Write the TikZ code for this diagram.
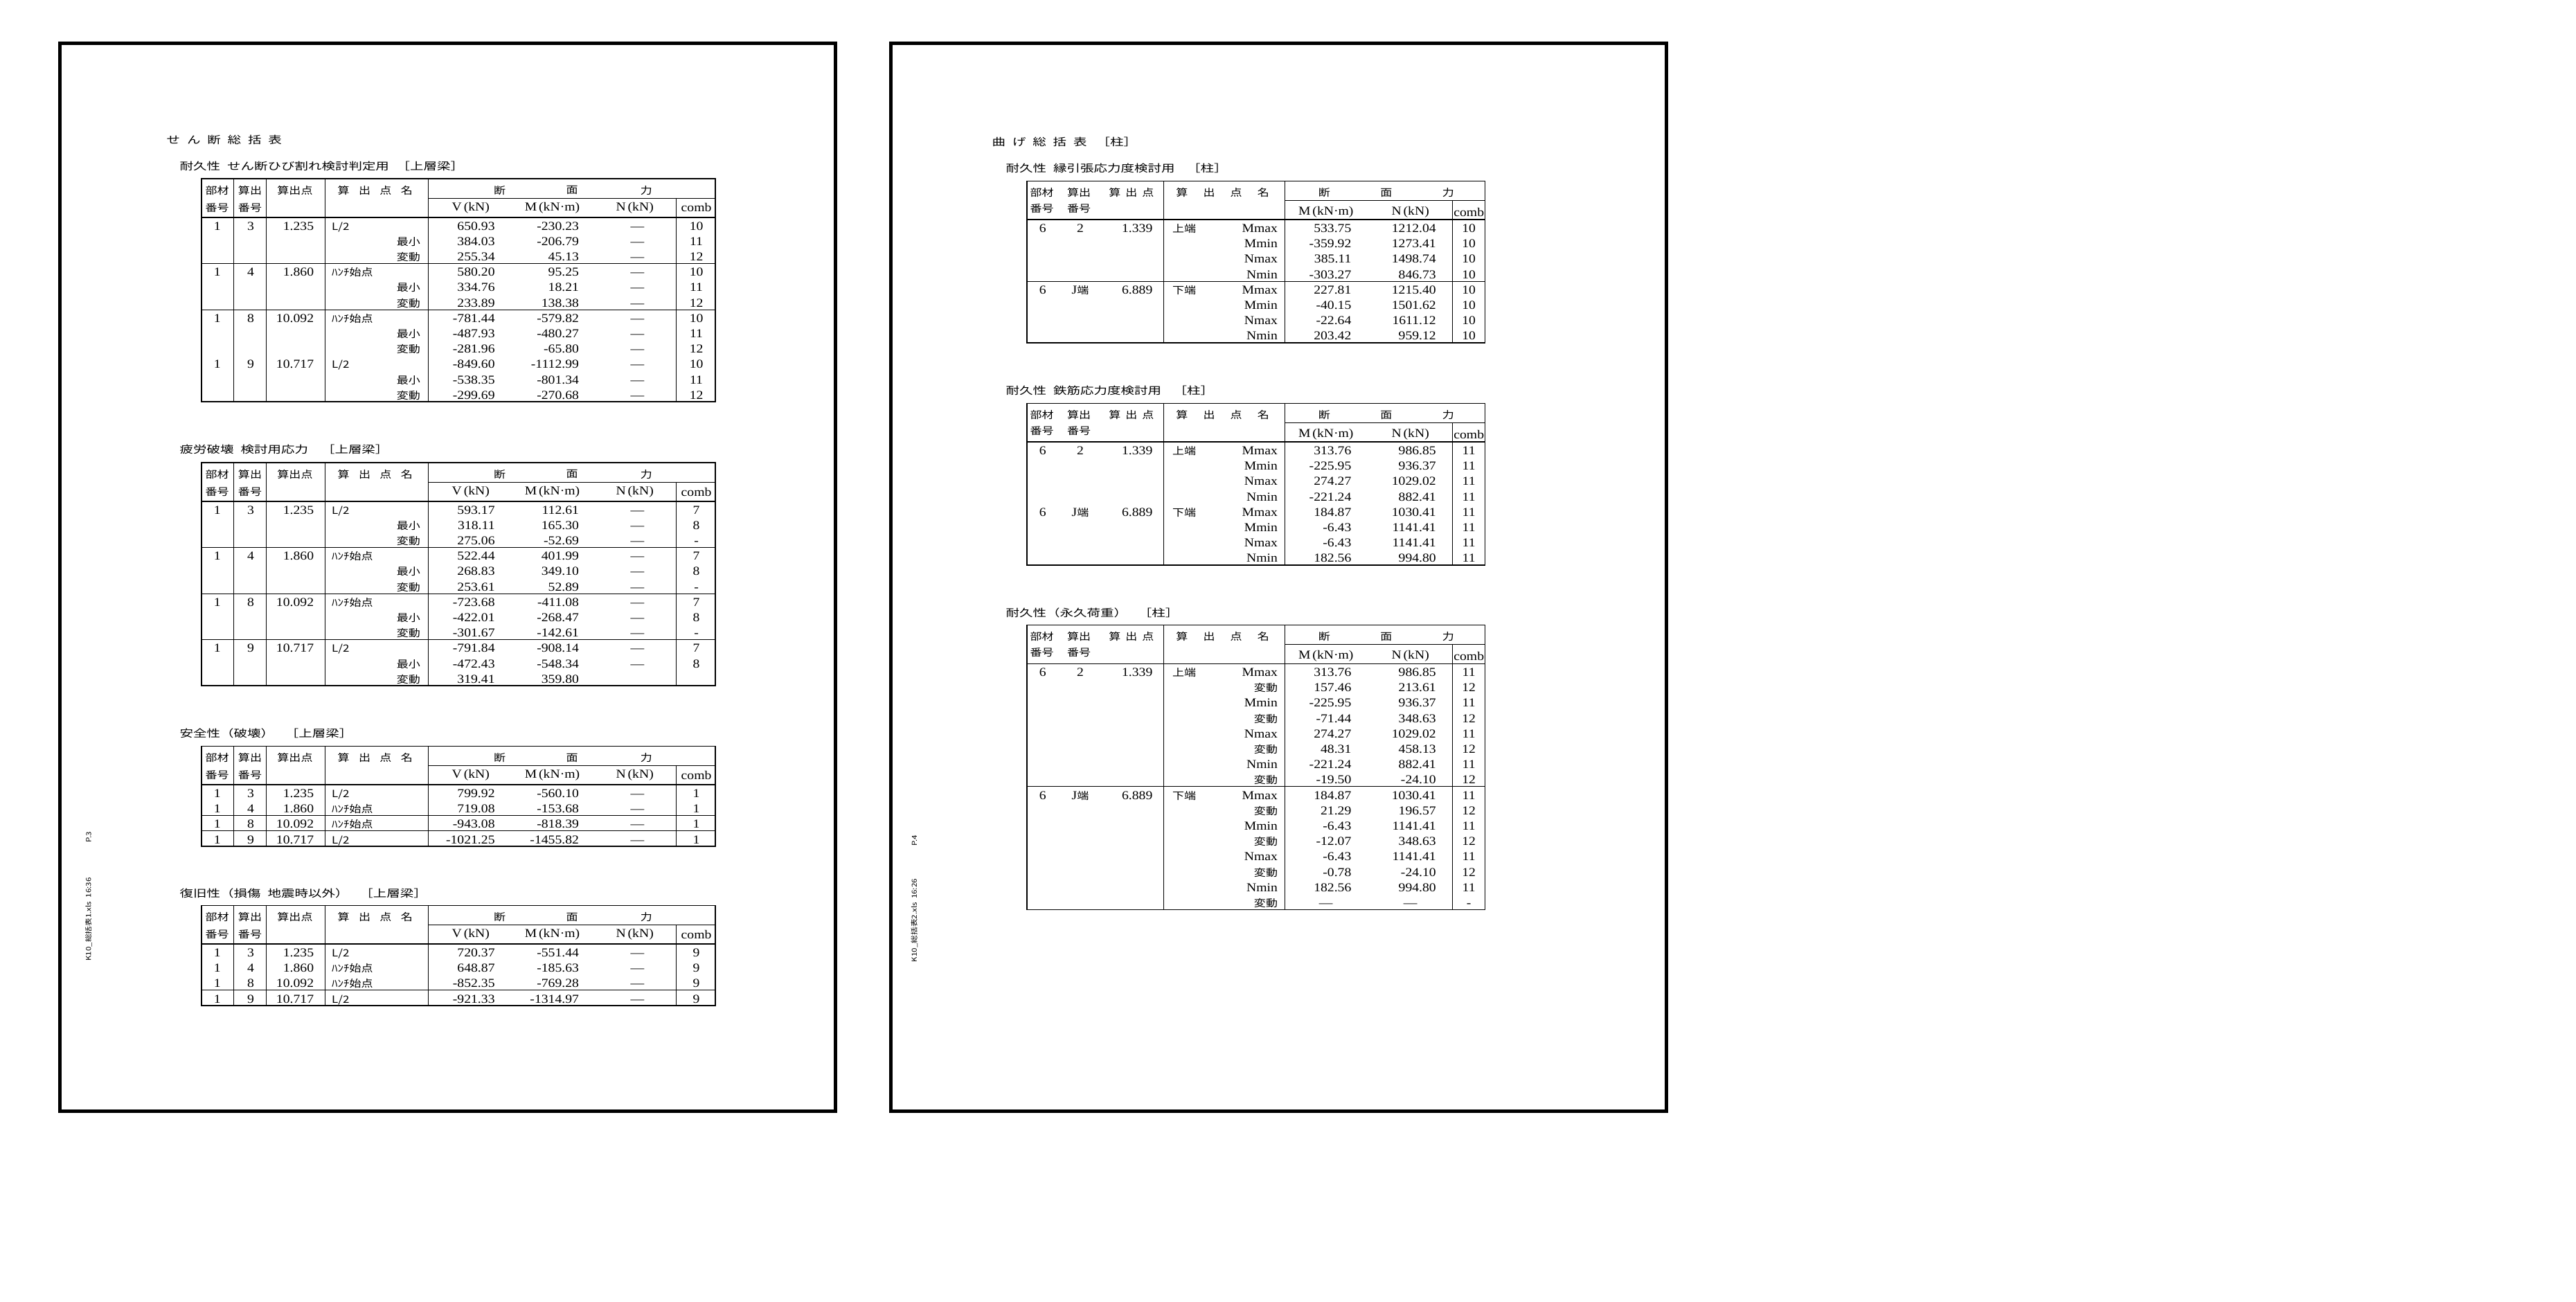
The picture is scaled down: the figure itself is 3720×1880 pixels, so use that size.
\documentclass[tikz,border=0pt]{standalone}
\usepackage{fontspec}
\setmainfont{Liberation Serif}[FakeStretch=1.12]
\newfontfamily\jp{Noto Sans CJK JP}[FakeStretch=1.32]
\newfontfamily\jpn{Noto Sans CJK JP}[FakeStretch=1.18]
\usetikzlibrary{positioning}

\newcommand{\numsz}{\fontsize{5}{6}\selectfont}
\newcommand{\jsz}{\fontsize{4.1}{5}\selectfont}
\newcommand{\tsz}{\fontsize{4.2}{5}\selectfont}
\newcommand{\jsp}{\hspace{2.8pt}}
\newcommand{\Lhalf}{L/2}
\newcommand{\Jend}{J{\jpn\jsz 端}}
\newcommand{\hendou}{{\jpn\jsz 変動}}

% body rows of a beam table: name, y of header bottom, rows
\newcommand{\beamrows}[3]{%
\foreach \fa/\fb/\fc/\fd/\fe/\fv/\fm/\fn/\fk [count=\k] in {#3} {
  \node[cnum] (#1a\k) at (313.7,{#2+22.2*\k-3.9}) {\fa};
  \node[cnum] (#1b\k) at (362,{#2+22.2*\k-3.9}) {\fb};
  \node[num] (#1c\k) at (453.8,{#2+22.2*\k-3.9}) {\fc};
  \node[jl] (#1d\k) at (478.4,{#2+22.2*\k-3.9}) {\fd};
  \node[jr] (#1e\k) at (607.6,{#2+22.2*\k-3.9}) {\fe};
  \node[num] (#1v\k) at (715.3,{#2+22.2*\k-3.9}) {\fv};
  \node[num] (#1m\k) at (836.7,{#2+22.2*\k-3.9}) {\fm};
  \node[cnum] (#1n\k) at (920.4,{#2+22.2*\k-3.9}) {\fn};
  \node[cnum] (#1k\k) at (1005.6,{#2+22.2*\k-3.9}) {\fk};
}}

% body rows of a column table: name, y of header bottom, rows
\newcommand{\colrows}[3]{%
\foreach \fa/\fb/\fc/\fd/\fe/\fm/\fn/\fk [count=\k] in {#3} {
  \node[cnum] (#1a\k) at (1505.9,{#2+22.2*\k-3.9}) {\fa};
  \node[cnum] (#1b\k) at (1560,{#2+22.2*\k-3.9}) {\fb};
  \node[num] (#1c\k) at (1665.1,{#2+22.2*\k-3.9}) {\fc};
  \node[jl] (#1d\k) at (1692.5,{#2+22.2*\k-3.9}) {\fd};
  \node[num] (#1e\k) at (1845.7,{#2+22.2*\k-3.9}) {\fe};
  \node[num] (#1m\k) at (1952.1,{#2+22.2*\k-3.9}) {\fm};
  \node[num] (#1n\k) at (2074.5,{#2+22.2*\k-3.9}) {\fn};
  \node[cnum] (#1k\k) at (2121.2,{#2+22.2*\k-3.9}) {\fk};
}}

\begin{document}
\begin{tikzpicture}[x=0.01cm,y=-0.01cm]

\tikzstyle{pageframe}=[line width=1.4pt]
\tikzstyle{tabframe}=[line width=0.45pt]
\tikzstyle{tabrule}=[line width=0.25pt]
\tikzstyle{num}=[inner sep=0pt,anchor=base east,font=\numsz]
\tikzstyle{cnum}=[inner sep=0pt,anchor=base,font=\numsz]
\tikzstyle{unit}=[inner sep=0pt,font=\numsz]
\tikzstyle{jl}=[inner sep=0pt,anchor=base west,font=\jpn\jsz]
\tikzstyle{jr}=[inner sep=0pt,anchor=base east,font=\jpn\jsz]
\tikzstyle{headtxt}=[inner sep=0pt,font=\jpn\jsz]
\tikzstyle{ttl}=[inner sep=0pt,anchor=west,font=\jp\tsz]
\tikzstyle{sidetxt}=[inner sep=0pt,rotate=90,font=\jpn\fontsize{2.8}{3}\selectfont]

\useasboundingbox (0,0) rectangle (3720,1880);
\fill[white] (0,0) rectangle (3720,1880);

% pages
\draw[pageframe] (86.5,62.5) rectangle (1206.5,1604.5);
\draw[pageframe] (1286.5,62.5) rectangle (2406.5,1604.5);
\node[sidetxt] (lpage) at (128,1209) {P.3};
\node[sidetxt] (lfile) at (128,1327.5) {K10\_総括表1.xls\ \ 16:36};
\node[sidetxt] (rpage) at (1320.5,1213.5) {P.4};
\node[sidetxt] (rfile) at (1320.5,1329) {K10\_総括表2.xls\ \ 16:26};

% titles, left page
\node[ttl] (ltitle) at (240,201.7) {せ\jsp ん\jsp 断\jsp 総\jsp 括\jsp 表};
\node[ttl] (lsub1) at (259,240) {耐久性\hspace{2.8pt}せん断ひび割れ検討判定用\hspace{3pt}［上層梁］};
\node[ttl] (lsub2) at (259,649.3) {疲労破壊\hspace{2.8pt}検討用応力\hspace{5.4pt}［上層梁］};
\node[ttl] (lsub3) at (259,1059.3) {安全性（破壊）\hspace{4.5pt}［上層梁］};
\node[ttl] (lsub4) at (259,1290) {復旧性（損傷\hspace{2.8pt}地震時以外）\hspace{4.5pt}［上層梁］};

% titles, right page
\node[ttl] (rtitle) at (1432,205) {曲\jsp げ\jsp 総\jsp 括\jsp 表\hspace{4pt}［柱］};
\node[ttl] (rsub1) at (1452,243.3) {耐久性\hspace{2.8pt}縁引張応力度検討用\hspace{5pt}［柱］};
\node[ttl] (rsub2) at (1452,564.3) {耐久性\hspace{2.8pt}鉄筋応力度検討用\hspace{5pt}［柱］};
\node[ttl] (rsub3) at (1452,885) {耐久性（永久荷重）\hspace{4.5pt}［柱］};

% beam tables: frame and header
\foreach \ty/\by [count=\i] in {258.3/580.2, 668.3/990.2, 1077.7/1222, 1307.7/1452} {
  \draw[tabframe] (291.2,\ty) rectangle (1032.8,\by);
  \draw[tabframe] (291.2,\ty+55.5) -- (1032.8,\ty+55.5);
  \draw[tabrule] (618.6,\ty+27.7) -- (1032.8,\ty+27.7);
  \draw[tabrule] (976.8,\ty+27.7) -- (976.8,\by);
  \foreach \cx in {337.7,384.3,469.5,618.6}
    \draw[tabrule] (\cx,\ty) -- (\cx,\by);
  \node[headtxt] (b\i-h1) at (313.7,\ty+16.7) {部材};
  \node[headtxt] (b\i-h2) at (313.7,\ty+41.7) {番号};
  \node[headtxt] (b\i-h3) at (361,\ty+16.7) {算出};
  \node[headtxt] (b\i-h4) at (361,\ty+41.7) {番号};
  \node[headtxt] (b\i-h5) at (426,\ty+16.7) {算出点};
  \node[headtxt] (b\i-h6) at (541.7,\ty+16.7) {算\hspace{3.8pt}出\hspace{3.8pt}点\hspace{3.8pt}名};
  \node[headtxt] (b\i-f1) at (721.6,\ty+16.7) {断};
  \node[headtxt] (b\i-f2) at (826.2,\ty+16.7) {面};
  \node[headtxt] (b\i-f3) at (933.4,\ty+16.7) {力};
  \node[unit] (b\i-v) at (679.8,\ty+41.7) {V\,(kN)};
  \node[unit] (b\i-m) at (797.5,\ty+41.7) {M\,(kN·m)};
  \node[unit] (b\i-n) at (916.7,\ty+41.7) {N\,(kN)};
  \node[unit] (b\i-c) at (1005.6,\ty+41.7) {comb};
}

% column tables: frame and header
\foreach \ty/\by [count=\i] in {261.7/495.1, 582.7/815.9, 902.7/1313.5} {
  \draw[tabframe] (1483.1,\ty) rectangle (2144.6,\by);
  \draw[tabframe] (1483.1,\ty+55.6) -- (2144.6,\ty+55.6);
  \draw[tabrule] (1855.6,\ty+27.6) -- (2144.6,\ty+27.6);
  \draw[tabrule] (2097.9,\ty+27.6) -- (2097.9,\by);
  \foreach \cx in {1680,1855.6}
    \draw[tabrule] (\cx,\ty) -- (\cx,\by);
  \node[headtxt] (c\i-h1) at (1504.5,\ty+16.6) {部材};
  \node[headtxt] (c\i-h2) at (1504.5,\ty+39.3) {番号};
  \node[headtxt] (c\i-h3) at (1558.2,\ty+16.6) {算出};
  \node[headtxt] (c\i-h4) at (1558.2,\ty+39.3) {番号};
  \node[headtxt] (c\i-h5) at (1633.8,\ty+16.6) {算\hspace{2pt}出\hspace{2pt}点};
  \node[headtxt] (c\i-h6) at (1765.6,\ty+16.6) {算\hspace{6.3pt}出\hspace{6.3pt}点\hspace{6.3pt}名};
  \node[headtxt] (c\i-f1) at (1912.3,\ty+16.6) {断};
  \node[headtxt] (c\i-f2) at (2001.9,\ty+16.6) {面};
  \node[headtxt] (c\i-f3) at (2091.4,\ty+16.6) {力};
  \node[unit] (c\i-m) at (1914.8,\ty+45) {M\,(kN·m)};
  \node[unit] (c\i-n) at (2036.7,\ty+45) {N\,(kN)};
  \node[unit] (c\i-c) at (2121.2,\ty+45) {comb};
}

% group rules
\foreach \ry in {380.4,447.0,790.4,857.0,923.6,1177.6,1199.8,1429.8}
  \draw[tabrule] (291.2,\ry) -- (1032.8,\ry);
\foreach \ry in {406.1,1135.9}
  \draw[tabrule] (1483.1,\ry) -- (2144.6,\ry);

% beam table rows
\beamrows{ba}{313.8}{
1/3/1.235/\Lhalf/{}/650.93/-230.23/—/10,
{}/{}/{}/{}/最小/384.03/-206.79/—/11,
{}/{}/{}/{}/変動/255.34/45.13/—/12,
1/4/1.860/ﾊﾝﾁ始点/{}/580.20/95.25/—/10,
{}/{}/{}/{}/最小/334.76/18.21/—/11,
{}/{}/{}/{}/変動/233.89/138.38/—/12,
1/8/10.092/ﾊﾝﾁ始点/{}/-781.44/-579.82/—/10,
{}/{}/{}/{}/最小/-487.93/-480.27/—/11,
{}/{}/{}/{}/変動/-281.96/-65.80/—/12,
1/9/10.717/\Lhalf/{}/-849.60/-1112.99/—/10,
{}/{}/{}/{}/最小/-538.35/-801.34/—/11,
{}/{}/{}/{}/変動/-299.69/-270.68/—/12}

\beamrows{bb}{723.8}{
1/3/1.235/\Lhalf/{}/593.17/112.61/—/7,
{}/{}/{}/{}/最小/318.11/165.30/—/8,
{}/{}/{}/{}/変動/275.06/-52.69/—/-,
1/4/1.860/ﾊﾝﾁ始点/{}/522.44/401.99/—/7,
{}/{}/{}/{}/最小/268.83/349.10/—/8,
{}/{}/{}/{}/変動/253.61/52.89/—/-,
1/8/10.092/ﾊﾝﾁ始点/{}/-723.68/-411.08/—/7,
{}/{}/{}/{}/最小/-422.01/-268.47/—/8,
{}/{}/{}/{}/変動/-301.67/-142.61/—/-,
1/9/10.717/\Lhalf/{}/-791.84/-908.14/—/7,
{}/{}/{}/{}/最小/-472.43/-548.34/—/8,
{}/{}/{}/{}/変動/319.41/359.80/{}/{}}

\beamrows{bc}{1133.2}{
1/3/1.235/\Lhalf/{}/799.92/-560.10/—/1,
1/4/1.860/ﾊﾝﾁ始点/{}/719.08/-153.68/—/1,
1/8/10.092/ﾊﾝﾁ始点/{}/-943.08/-818.39/—/1,
1/9/10.717/\Lhalf/{}/-1021.25/-1455.82/—/1}

\beamrows{bd}{1363.2}{
1/3/1.235/\Lhalf/{}/720.37/-551.44/—/9,
1/4/1.860/ﾊﾝﾁ始点/{}/648.87/-185.63/—/9,
1/8/10.092/ﾊﾝﾁ始点/{}/-852.35/-769.28/—/9,
1/9/10.717/\Lhalf/{}/-921.33/-1314.97/—/9}

% column table rows
\colrows{ca}{317.3}{
6/2/1.339/上端/Mmax/533.75/1212.04/10,
{}/{}/{}/{}/Mmin/-359.92/1273.41/10,
{}/{}/{}/{}/Nmax/385.11/1498.74/10,
{}/{}/{}/{}/Nmin/-303.27/846.73/10,
6/\Jend/6.889/下端/Mmax/227.81/1215.40/10,
{}/{}/{}/{}/Mmin/-40.15/1501.62/10,
{}/{}/{}/{}/Nmax/-22.64/1611.12/10,
{}/{}/{}/{}/Nmin/203.42/959.12/10}

\colrows{cb}{638.3}{
6/2/1.339/上端/Mmax/313.76/986.85/11,
{}/{}/{}/{}/Mmin/-225.95/936.37/11,
{}/{}/{}/{}/Nmax/274.27/1029.02/11,
{}/{}/{}/{}/Nmin/-221.24/882.41/11,
6/\Jend/6.889/下端/Mmax/184.87/1030.41/11,
{}/{}/{}/{}/Mmin/-6.43/1141.41/11,
{}/{}/{}/{}/Nmax/-6.43/1141.41/11,
{}/{}/{}/{}/Nmin/182.56/994.80/11}

\colrows{cc}{958.3}{
6/2/1.339/上端/Mmax/313.76/986.85/11,
{}/{}/{}/{}/\hendou/157.46/213.61/12,
{}/{}/{}/{}/Mmin/-225.95/936.37/11,
{}/{}/{}/{}/\hendou/-71.44/348.63/12,
{}/{}/{}/{}/Nmax/274.27/1029.02/11,
{}/{}/{}/{}/\hendou/48.31/458.13/12,
{}/{}/{}/{}/Nmin/-221.24/882.41/11,
{}/{}/{}/{}/\hendou/-19.50/-24.10/12,
6/\Jend/6.889/下端/Mmax/184.87/1030.41/11,
{}/{}/{}/{}/\hendou/21.29/196.57/12,
{}/{}/{}/{}/Mmin/-6.43/1141.41/11,
{}/{}/{}/{}/\hendou/-12.07/348.63/12,
{}/{}/{}/{}/Nmax/-6.43/1141.41/11,
{}/{}/{}/{}/\hendou/-0.78/-24.10/12,
{}/{}/{}/{}/Nmin/182.56/994.80/11}
\node[jr] (cce16) at (1845.7,1309.6) {変動};
\node[cnum] (ccm16) at (1914.8,1309.6) {—};
\node[cnum] (ccn16) at (2036.7,1309.6) {—};
\node[cnum] (cck16) at (2121.2,1309.6) {-};

\end{tikzpicture}
\end{document}
